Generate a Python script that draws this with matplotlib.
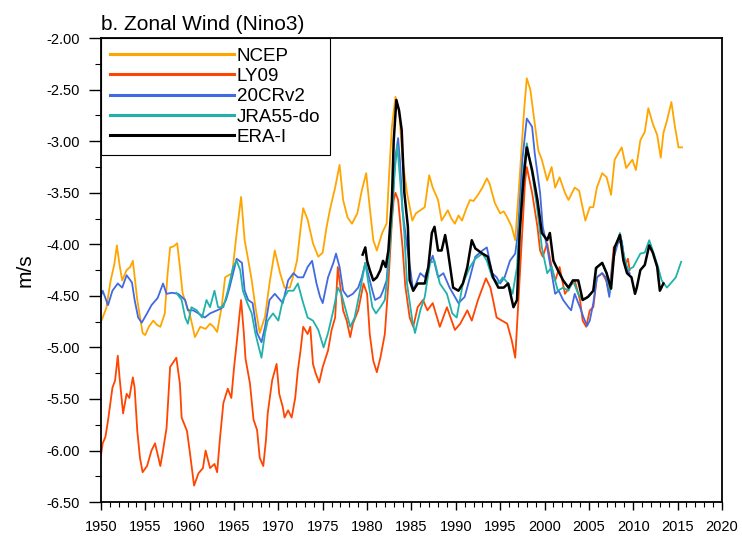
import matplotlib
matplotlib.use("Agg")
import matplotlib.pyplot as plt
from matplotlib.ticker import MultipleLocator, FormatStrFormatter

# data: (year, m/s)
ncep = [(1950.0,-4.75),(1950.2,-4.71),(1950.6,-4.62),(1951.1,-4.35),(1951.5,-4.20),(1951.8,-4.01),
        (1952.1,-4.20),(1952.4,-4.35),(1952.9,-4.25),(1953.3,-4.22),(1953.6,-4.16),(1954.1,-4.54),
        (1954.7,-4.86),(1955.0,-4.88),(1955.4,-4.80),(1955.9,-4.74),(1956.3,-4.78),(1956.7,-4.80),
        (1957.2,-4.67),(1957.5,-4.30),(1957.8,-4.03),(1958.2,-4.02),(1958.6,-3.99),(1958.9,-4.22),
        (1959.2,-4.47),(1959.6,-4.58),(1960.0,-4.67),(1960.6,-4.90),(1961.2,-4.80),(1961.8,-4.82),
        (1962.3,-4.77),(1962.7,-4.80),(1963.1,-4.85),(1963.6,-4.61),(1964.0,-4.32),(1964.4,-4.30),
        (1964.8,-4.28),(1965.3,-3.89),(1965.8,-3.54),(1966.2,-3.96),(1966.6,-4.15),(1967.0,-4.35),
        (1967.4,-4.60),(1967.9,-4.86),(1968.5,-4.70),(1969.0,-4.38),(1969.6,-4.06),(1970.2,-4.28),
        (1970.7,-4.42),(1971.3,-4.42),(1971.7,-4.30),(1972.1,-4.16),(1972.5,-3.85),(1972.8,-3.65),
        (1973.3,-3.76),(1973.9,-3.99),(1974.5,-4.12),(1975.0,-4.08),(1975.4,-3.85),(1975.8,-3.67),
        (1976.4,-3.45),(1976.9,-3.23),(1977.3,-3.57),(1977.8,-3.74),(1978.3,-3.80),(1978.9,-3.70),
        (1979.4,-3.48),(1979.9,-3.31),(1980.1,-3.48),(1980.7,-3.96),(1981.1,-4.06),(1981.7,-3.89),
        (1982.2,-3.80),(1982.5,-3.30),(1982.8,-2.86),(1983.2,-2.57),(1983.6,-2.70),(1984.0,-3.18),
        (1984.5,-3.50),(1985.1,-3.77),(1985.5,-3.70),(1986.0,-3.67),(1986.5,-3.64),(1987.0,-3.33),
        (1987.4,-3.45),(1988.0,-3.57),(1988.4,-3.77),(1989.1,-3.67),(1989.5,-3.75),(1989.9,-3.80),
        (1990.3,-3.72),(1990.7,-3.77),(1991.2,-3.65),(1991.6,-3.57),(1992.0,-3.58),(1992.5,-3.52),
        (1993.0,-3.45),(1993.5,-3.36),(1993.8,-3.41),(1994.4,-3.60),(1995.0,-3.70),(1995.4,-3.68),
        (1995.8,-3.74),(1996.3,-3.83),(1996.7,-3.96),(1997.2,-3.35),(1997.7,-2.70),(1998.0,-2.39),
        (1998.4,-2.50),(1998.7,-2.70),(1999.3,-3.09),(1999.7,-3.18),(2000.3,-3.38),(2000.8,-3.25),
        (2001.2,-3.45),(2001.7,-3.35),(2002.3,-3.50),(2002.7,-3.57),(2003.4,-3.45),(2003.9,-3.48),
        (2004.6,-3.77),(2005.1,-3.64),(2005.5,-3.64),(2005.9,-3.45),(2006.5,-3.31),(2007.0,-3.35),
        (2007.5,-3.52),(2007.9,-3.18),(2008.7,-3.06),(2009.2,-3.26),(2009.9,-3.18),(2010.3,-3.28),
        (2010.8,-2.99),(2011.3,-2.91),(2011.7,-2.68),(2012.2,-2.83),(2012.7,-2.94),(2013.1,-3.16),
        (2013.4,-2.92),(2013.8,-2.80),(2014.3,-2.62),(2014.7,-2.86),(2015.1,-3.06),(2015.5,-3.06)]

ly09 = [(1950.0,-6.05),(1950.2,-5.93),(1950.5,-5.87),(1950.8,-5.71),(1951.3,-5.39),(1951.6,-5.32),
        (1951.9,-5.08),(1952.1,-5.29),(1952.5,-5.64),(1952.9,-5.45),(1953.2,-5.49),(1953.6,-5.29),
        (1953.8,-5.39),(1954.1,-5.81),(1954.4,-6.07),(1954.7,-6.21),(1955.2,-6.15),(1955.7,-6.00),
        (1956.1,-5.93),(1956.7,-6.15),(1957.0,-6.00),(1957.4,-5.78),(1957.8,-5.19),(1958.5,-5.10),
        (1958.9,-5.35),(1959.1,-5.68),(1959.7,-5.81),(1960.0,-6.00),(1960.5,-6.34),(1961.0,-6.22),
        (1961.5,-6.17),(1961.8,-6.00),(1962.3,-6.17),(1962.8,-6.13),(1963.1,-6.21),(1963.4,-5.90),
        (1963.8,-5.54),(1964.3,-5.40),(1964.7,-5.49),(1965.0,-5.20),(1965.3,-4.96),(1965.6,-4.70),
        (1965.8,-4.54),(1966.1,-4.85),(1966.3,-5.11),(1966.8,-5.35),(1967.2,-5.70),(1967.6,-5.80),
        (1967.9,-6.07),(1968.3,-6.15),(1968.6,-5.90),(1968.8,-5.64),(1969.3,-5.32),(1969.8,-5.16),
        (1970.1,-5.45),(1970.5,-5.58),(1970.7,-5.68),(1971.1,-5.61),(1971.5,-5.68),(1971.9,-5.49),
        (1972.2,-5.22),(1972.5,-5.03),(1972.8,-4.80),(1973.3,-4.87),(1973.6,-4.80),(1973.9,-5.16),
        (1974.2,-5.25),(1974.6,-5.34),(1975.0,-5.19),(1975.6,-5.03),(1976.0,-4.83),(1976.4,-4.71),
        (1976.7,-4.22),(1977.0,-4.42),(1977.3,-4.64),(1977.7,-4.74),(1978.1,-4.90),(1978.4,-4.77),
        (1979.0,-4.64),(1979.6,-4.38),(1980.0,-4.48),(1980.3,-4.87),(1980.7,-5.13),(1981.1,-5.24),
        (1981.5,-5.10),(1982.0,-4.87),(1982.4,-4.38),(1982.8,-3.77),(1983.0,-3.57),(1983.2,-3.50),
        (1983.5,-3.57),(1984.0,-4.03),(1984.3,-4.40),(1984.8,-4.71),(1985.2,-4.80),(1985.7,-4.61),
        (1986.3,-4.54),(1986.8,-4.64),(1987.4,-4.57),(1988.2,-4.80),(1989.0,-4.61),(1989.9,-4.83),
        (1990.5,-4.77),(1991.3,-4.64),(1991.8,-4.74),(1992.5,-4.54),(1993.4,-4.33),(1993.9,-4.42),
        (1994.2,-4.54),(1994.6,-4.71),(1995.2,-4.74),(1995.8,-4.77),(1996.3,-4.93),(1996.7,-5.10),
        (1997.0,-4.64),(1997.5,-3.89),(1997.8,-3.40),(1998.0,-3.25),(1998.6,-3.50),(1999.2,-3.83),
        (1999.5,-4.06),(1999.8,-4.12),(2000.3,-3.99),(2000.8,-4.22),(2001.2,-4.35),(2001.7,-4.22),
        (2002.3,-4.48),(2002.8,-4.42),(2003.4,-4.35),(2004.0,-4.54),(2004.3,-4.74),(2004.7,-4.80),
        (2005.1,-4.64),(2005.5,-4.61),(2005.9,-4.32),(2006.5,-4.28),(2007.0,-4.36),(2007.3,-4.48),
        (2007.8,-4.03),(2008.3,-3.98),(2008.7,-3.98),(2009.1,-4.20),(2009.4,-4.14),(2009.6,-4.25)]

cr20 = [(1950.0,-4.50),(1950.2,-4.45),(1950.8,-4.59),(1951.3,-4.45),(1951.9,-4.38),(1952.4,-4.42),
        (1952.9,-4.30),(1953.5,-4.37),(1953.8,-4.54),(1954.2,-4.71),(1954.6,-4.76),(1955.2,-4.67),
        (1955.7,-4.59),(1956.4,-4.52),(1957.0,-4.38),(1957.4,-4.48),(1958.0,-4.47),(1958.7,-4.48),
        (1959.5,-4.54),(1959.8,-4.64),(1960.4,-4.64),(1961.0,-4.67),(1961.7,-4.71),(1962.3,-4.67),
        (1963.1,-4.64),(1963.6,-4.62),(1964.1,-4.54),(1964.5,-4.42),(1964.9,-4.28),(1965.3,-4.14),
        (1965.9,-4.18),(1966.2,-4.45),(1966.6,-4.54),(1967.1,-4.57),(1967.6,-4.86),(1968.1,-4.95),
        (1968.5,-4.80),(1969.0,-4.54),(1969.6,-4.48),(1970.2,-4.54),(1970.5,-4.57),(1971.1,-4.35),
        (1971.7,-4.28),(1972.2,-4.32),(1972.8,-4.32),(1973.3,-4.22),(1973.8,-4.16),(1974.3,-4.38),
        (1974.7,-4.51),(1975.0,-4.57),(1975.6,-4.32),(1976.2,-4.18),(1976.5,-4.09),(1976.9,-4.22),
        (1977.3,-4.45),(1977.8,-4.51),(1978.4,-4.48),(1979.0,-4.42),(1979.4,-4.32),(1979.8,-4.18),
        (1980.1,-4.28),(1980.6,-4.45),(1980.9,-4.54),(1981.5,-4.51),(1981.8,-4.45),(1982.2,-4.35),
        (1982.6,-3.89),(1982.9,-3.57),(1983.2,-3.15),(1983.5,-2.97),(1983.7,-3.18),(1984.0,-3.67),
        (1984.4,-3.95),(1984.8,-4.20),(1985.2,-4.45),(1986.0,-4.28),(1986.5,-4.32),(1987.4,-4.11),
        (1988.0,-4.32),(1988.6,-4.28),(1989.3,-4.42),(1990.3,-4.57),(1991.0,-4.51),(1991.6,-4.32),
        (1992.2,-4.12),(1993.0,-4.06),(1993.5,-4.03),(1994.1,-4.28),(1994.6,-4.32),(1995.0,-4.38),
        (1995.5,-4.32),(1996.1,-4.16),(1996.7,-4.09),(1997.0,-3.89),(1997.5,-3.18),(1998.0,-2.78),
        (1998.6,-2.86),(1998.9,-3.12),(1999.5,-3.50),(1999.8,-3.83),(2000.3,-4.03),(2000.8,-4.28),
        (2001.2,-4.48),(2001.6,-4.45),(2002.1,-4.54),(2002.7,-4.61),(2003.0,-4.64),(2003.4,-4.48),
        (2004.0,-4.61),(2004.4,-4.71),(2004.8,-4.79),(2005.1,-4.74),(2005.5,-4.57),(2005.9,-4.32),
        (2006.5,-4.28),(2006.9,-4.32),(2007.3,-4.51),(2007.7,-4.16),(2008.3,-3.98),(2008.7,-3.96),
        (2009.1,-4.22),(2009.6,-4.28)]

jra55 = [(1958.5,-4.47),(1959.1,-4.54),(1959.5,-4.71),(1959.8,-4.77),(1960.2,-4.61),(1960.8,-4.64),
         (1961.4,-4.71),(1961.9,-4.54),(1962.3,-4.61),(1962.8,-4.45),(1963.2,-4.61),(1963.8,-4.61),
         (1964.3,-4.45),(1964.9,-4.22),(1965.3,-4.16),(1965.7,-4.25),(1966.0,-4.45),(1966.5,-4.57),
         (1967.0,-4.67),(1967.4,-4.86),(1967.8,-5.00),(1968.1,-5.10),(1968.5,-4.86),(1968.8,-4.74),
         (1969.4,-4.67),(1970.0,-4.74),(1970.5,-4.54),(1971.1,-4.45),(1971.7,-4.45),(1972.2,-4.38),
         (1972.8,-4.57),(1973.3,-4.71),(1973.9,-4.74),(1974.5,-4.83),(1975.1,-5.00),(1975.6,-4.86),
         (1976.2,-4.64),(1976.7,-4.42),(1977.1,-4.48),(1977.7,-4.67),(1978.1,-4.80),(1978.6,-4.71),
         (1979.2,-4.45),(1979.8,-4.18),(1980.1,-4.35),(1980.6,-4.61),(1981.0,-4.67),(1981.5,-4.61),
         (1982.0,-4.54),(1982.4,-4.22),(1982.8,-3.74),(1983.1,-3.30),(1983.4,-3.04),(1983.7,-3.35),
         (1984.2,-3.90),(1984.5,-4.38),(1985.1,-4.74),(1985.4,-4.86),(1986.0,-4.64),(1986.5,-4.51),
         (1987.1,-4.18),(1987.6,-4.16),(1988.2,-4.38),(1989.0,-4.48),(1989.6,-4.67),(1990.1,-4.71),
         (1990.8,-4.38),(1991.6,-4.22),(1992.2,-4.14),(1993.0,-4.09),(1993.5,-4.16),(1994.1,-4.32),
         (1994.8,-4.38),(1995.3,-4.32),(1995.9,-4.38),(1996.4,-4.48),(1996.9,-4.22),(1997.2,-3.74),
         (1997.6,-3.30),(1998.0,-3.02),(1998.6,-3.31),(1999.2,-3.67),(1999.7,-4.03),(2000.3,-4.28),
         (2000.8,-4.22),(2001.5,-4.45),(2002.1,-4.42),(2002.7,-4.45),(2003.2,-4.35),(2003.8,-4.48),
         (2004.3,-4.54),(2004.9,-4.51),(2005.5,-4.45),(2005.9,-4.22),(2006.5,-4.18),(2007.0,-4.28),
         (2007.4,-4.45),(2007.9,-4.06),(2008.5,-3.89),(2008.9,-4.09),(2009.4,-4.25),(2010.0,-4.22),
         (2010.8,-4.09),(2011.3,-4.08),(2011.8,-3.96),(2012.2,-4.06),(2012.8,-4.22),(2013.2,-4.35),
         (2013.8,-4.42),(2014.3,-4.37),(2014.8,-4.32),(2015.4,-4.17)]

erai = [(1979.5,-4.10),(1979.8,-4.03),(1980.0,-4.16),(1980.3,-4.25),(1980.7,-4.35),(1981.1,-4.32),
        (1981.5,-4.25),(1981.8,-4.16),(1982.1,-4.22),(1982.4,-4.06),(1982.8,-3.57),(1983.0,-3.00),
        (1983.3,-2.60),(1983.6,-2.70),(1983.9,-2.89),(1984.2,-3.50),(1984.6,-3.83),(1984.8,-4.35),
        (1985.2,-4.45),(1985.7,-4.38),(1986.5,-4.38),(1986.9,-4.22),(1987.3,-3.89),(1987.6,-3.83),
        (1988.0,-4.06),(1988.4,-4.06),(1988.8,-3.91),(1989.1,-4.06),(1989.7,-4.42),(1990.3,-4.45),
        (1990.8,-4.38),(1991.3,-4.22),(1991.8,-3.96),(1992.2,-4.04),(1993.0,-4.09),(1993.6,-4.12),
        (1994.2,-4.32),(1994.8,-4.42),(1995.4,-4.42),(1995.9,-4.38),(1996.5,-4.61),(1996.9,-4.54),
        (1997.2,-3.89),(1997.6,-3.40),(1998.0,-3.06),(1998.6,-3.28),(1999.2,-3.57),(1999.7,-3.89),
        (2000.3,-3.96),(2000.6,-3.89),(2001.0,-4.16),(2001.5,-4.25),(2002.1,-4.35),(2002.7,-4.42),
        (2003.2,-4.35),(2003.8,-4.35),(2004.3,-4.54),(2004.9,-4.51),(2005.5,-4.45),(2005.8,-4.23),
        (2006.5,-4.18),(2007.0,-4.28),(2007.5,-4.43),(2007.9,-4.03),(2008.5,-3.91),(2008.9,-4.16),
        (2009.3,-4.28),(2009.8,-4.32),(2010.2,-4.48),(2010.4,-4.42),(2010.8,-4.25),(2011.3,-4.20),
        (2011.8,-4.01),(2012.2,-4.08),(2012.7,-4.22),(2013.0,-4.45),(2013.4,-4.38)]

names = ['NCEP', 'LY09', '20CRv2', 'JRA55-do', 'ERA-I']
colors = ['#FFA500', '#FF4500', '#4169E1', '#20B2AA', '#000000']
widths = [1.3, 1.3, 1.3, 1.3, 1.8]

plt.rcParams['font.family'] = ['Liberation Sans', 'DejaVu Sans']

fig = plt.figure(figsize=(7.42, 5.44), dpi=100)
ax = fig.add_axes([0.136, 0.077, 0.837, 0.853])

for series, name, c, lw in zip([ncep, ly09, cr20, jra55, erai], names, colors, widths):
    yrs = [p[0] for p in series]
    vals = [p[1] for p in series]
    ax.plot(yrs, vals, color=c, lw=lw, label=name)

ax.set_xlim(1950, 2020)
ax.set_ylim(-6.5, -2.0)
ax.xaxis.set_major_locator(MultipleLocator(5))
ax.xaxis.set_minor_locator(MultipleLocator(1))
ax.yaxis.set_major_locator(MultipleLocator(0.5))
ax.yaxis.set_minor_locator(MultipleLocator(0.25))
ax.yaxis.set_major_formatter(FormatStrFormatter('%.2f'))
ax.tick_params(axis='x', which='major', direction='out', length=6, width=1, labelsize=10.5, pad=7)
ax.tick_params(axis='x', which='minor', direction='out', length=3.5, width=0.8)
ax.tick_params(axis='y', which='major', direction='out', length=9, width=1, labelsize=10.5, pad=6)
ax.tick_params(axis='y', which='minor', direction='out', length=4, width=0.8)
for s in ax.spines.values():
    s.set_linewidth(1.3)

ax.set_ylabel('m/s', fontsize=15, labelpad=9)
ax.set_title('b. Zonal Wind (Nino3)', loc='left', fontsize=15, pad=6)

leg = ax.legend(loc='upper left', bbox_to_anchor=(0, 1), borderaxespad=0, fontsize=13.5,
                handlelength=6.6, handletextpad=0.15, labelspacing=0.17, borderpad=0.5,
                fancybox=False, framealpha=1)
leg.get_frame().set_edgecolor('black')
leg.get_frame().set_linewidth(0.8)
for line in leg.get_lines():
    line.set_linewidth(2.2)

fig.savefig('out.png', dpi=100)
